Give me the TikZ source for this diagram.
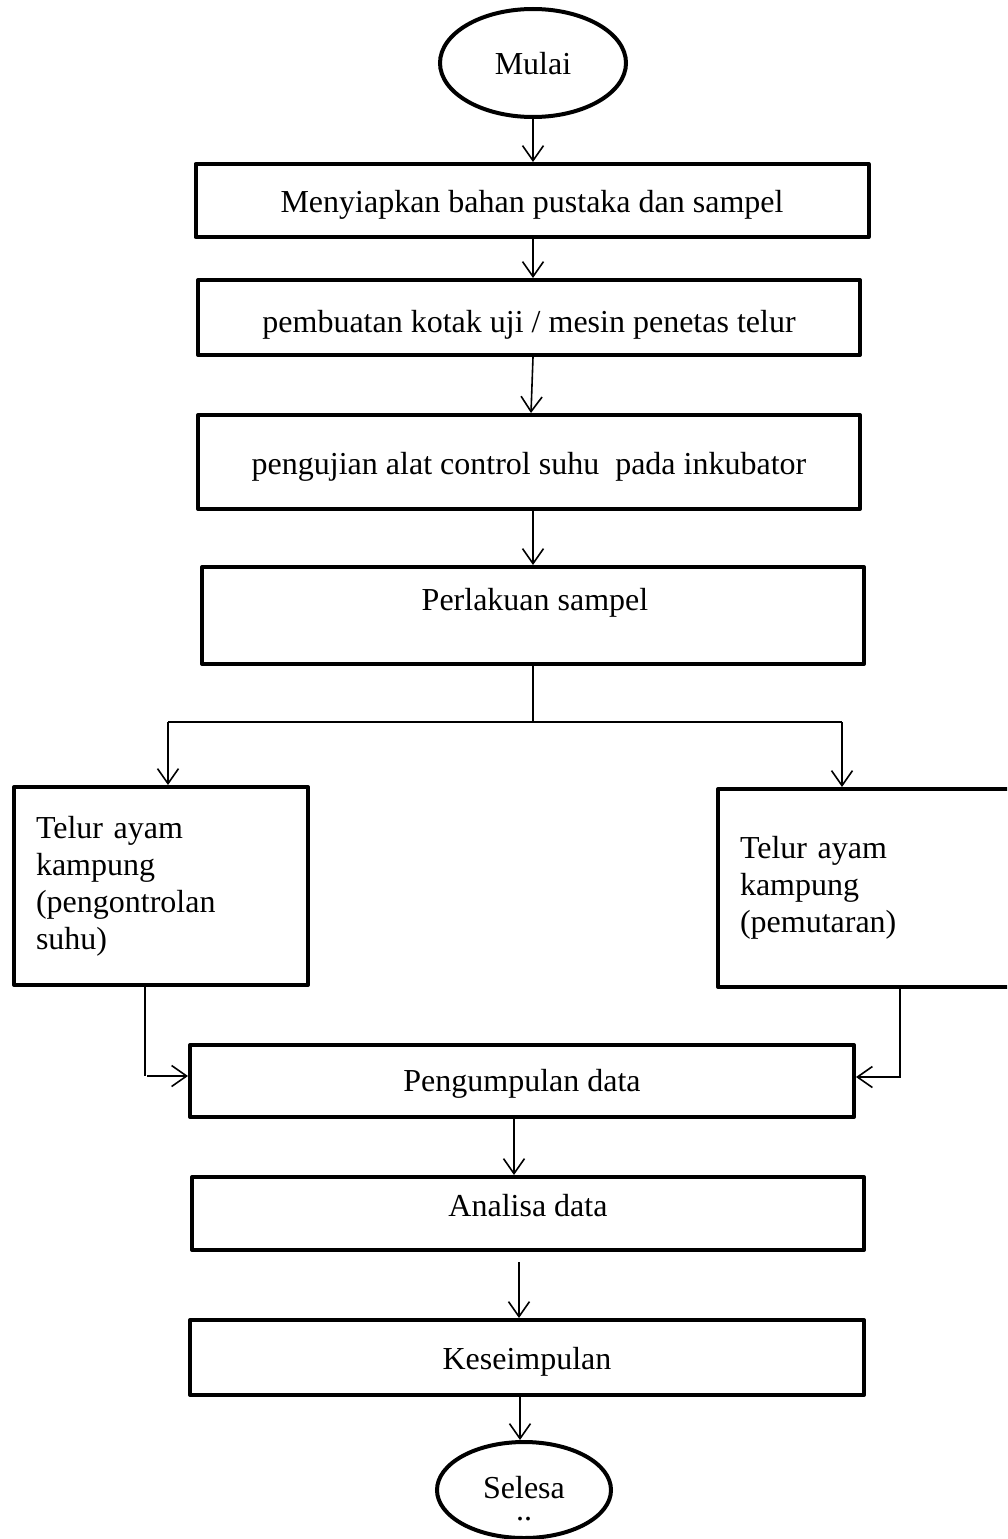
\documentclass[tikz,border=0pt]{standalone}
\usepackage{fontspec}
\setmainfont{Liberation Serif}
\usetikzlibrary{arrows.meta,shapes.geometric,calc}
\begin{document}
\begin{tikzpicture}[x=1pt,y=-1pt,
  every node/.style={font=\fontsize{32}{37}\selectfont, inner sep=0pt},
  box/.style={draw, line width=4pt, line join=round, rectangle},
  bt/.style={text height=#1, text depth=0pt},
  oval/.style={draw, line width=4pt, ellipse},
  side/.style={box, align=left},
  conn/.style={line width=1.6pt},
  arr/.style={conn, -{Straight Barb[length=15pt,width=21pt,line width=1.6pt]}}]
\useasboundingbox (0,0) rectangle (1007,1539);
\clip (0,0) rectangle (1007,1539);

\node[oval, bt=22pt, minimum width=186pt, minimum height=108pt] (m) at (533,63) {Mulai};
\node[box, bt=24pt, minimum width=673pt, minimum height=73pt] (b1) at (532,200.5) {Menyiapkan bahan pustaka dan sampel};
\node[box, bt=29pt, minimum width=662pt, minimum height=75pt] (b2) at (529,317.5) {pembuatan kotak uji / mesin penetas telur};
\node[box, bt=24pt, minimum width=662pt, minimum height=94pt] (b3) at (529,462) {pengujian alat control suhu~ pada inkubator};
\node[box, minimum width=662pt, minimum height=97pt] (b4) at (533,615.5) {};
\node[anchor=base] (t4) at (535,610) {Perlakuan sampel};
\node[side, minimum width=294pt, minimum height=198pt, text width=250pt] (L) at (161,886) {Telur ayam\\kampung\\(pengontrolan\\suhu)};
\node[side, minimum width=300pt, minimum height=198pt, text width=256pt] (R) at (868,888) {Telur ayam\\kampung\\(pemutaran)};
\node[box, bt=20pt, minimum width=664pt, minimum height=72pt] (b5) at (522,1081) {Pengumpulan data};
\node[box, bt=6pt, minimum width=672pt, minimum height=73pt] (b6) at (528,1213.5) {Analisa data};
\node[box, bt=23pt, minimum width=674pt, minimum height=75pt] (b7) at (527,1357.5) {Keseimpulan};
\node[oval, minimum width=174pt, minimum height=96pt] (s) at (524,1490) {};
\node[anchor=base, align=center] (st) at (524,1520) {Selesa\\[-15pt]..};

\coordinate (split) at (533,722);
\coordinate (jl) at (168,722);
\coordinate (jr) at (842,722);
\coordinate (lc) at (145,1076);
\coordinate (rc) at (900,1077);

\draw[arr] (m.south) -- (m.south |- b1.north);
\draw[arr] (b1.south -| m.south) -- (m.south |- b2.north);
\draw[arr] ([xshift=4pt]b2.south) -- ([xshift=2pt]b3.north);
\draw[arr] ([xshift=4pt]b3.south) -- (b4.north);
\draw[conn] (b4.south) -- (split);
\draw[conn] (jl) -- (jr);
\draw[arr] (jl) -- (jl |- L.north);
\draw[arr] (jr) -- (jr |- R.north);
\draw[conn] (L.south -| lc) -- (lc);
\draw[arr] ([xshift=2pt]lc) -- (lc -| b5.west);
\draw[arr] (R.south -| rc) -- (rc) -- (rc -| b5.east);
\draw[arr] ([xshift=-8pt]b5.south) -- ([xshift=-14pt]b6.north);
\draw[arr] ([xshift=-9pt,yshift=-10pt]b6.south) -- ([xshift=-8pt]b7.north);
\draw[arr] ([xshift=-7pt]b7.south) -- ([xshift=-4pt]s.north);
\end{tikzpicture}
\end{document}
